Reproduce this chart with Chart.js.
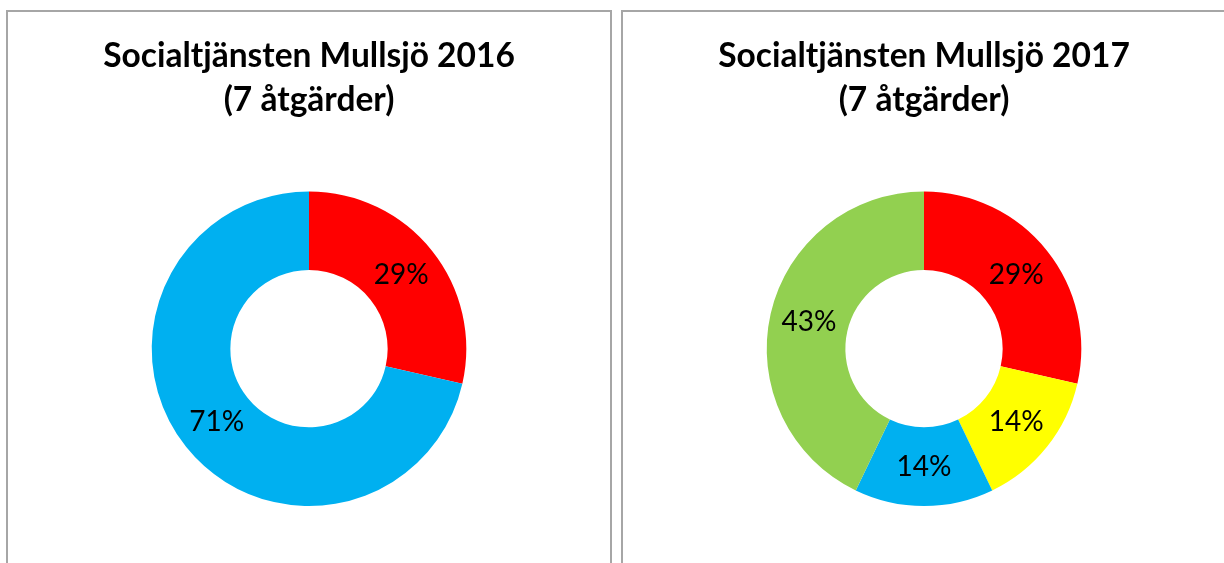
<!DOCTYPE html>
<html>
<head>
<meta charset="utf-8">
<script src="https://cdn.jsdelivr.net/npm/chart.js@4/dist/chart.umd.min.js"></script>
<style>
  html, body { margin: 0; padding: 0; background: #fff; overflow: hidden; }
  body { width: 1224px; height: 563px; position: relative; }
  .panel { position: absolute; top: 10px; width: 602px; height: 600px; border: 2px solid #a6a6a6; }
  .panel canvas { position: absolute; left: 0; top: 0; }
</style>
</head>
<body>
<div class="panel" style="left:6px"><canvas id="c2016" width="602" height="600"></canvas></div>
<div class="panel" style="left:621px"><canvas id="c2017" width="602" height="600"></canvas></div>
<script>
// titles
var title2016 = ['Socialtjänsten Mullsjö 2016', '(7 åtgärder)'];
var title2017 = ['Socialtjänsten Mullsjö 2017', '(7 åtgärder)'];

// number of åtgärder per category, clockwise from the top
var values2016 = [2, 5];
var colors2016 = ['#ff0000', '#00b0f0'];

var values2017 = [2, 1, 1, 3];
var colors2017 = ['#ff0000', '#ffff00', '#00b0f0', '#92d050'];

// draws the percentage in the middle of every slice
var sliceLabels = {
  id: 'sliceLabels',
  afterDatasetsDraw: function (chart) {
    var ctx = chart.ctx;
    var data = chart.data.datasets[0].data;
    var total = data.reduce(function (a, b) { return a + b; }, 0);
    ctx.save();
    ctx.font = '28px Lato';
    ctx.fillStyle = '#000';
    ctx.textAlign = 'center';
    ctx.textBaseline = 'middle';
    chart.getDatasetMeta(0).data.forEach(function (arc, i) {
      var p = arc.getCenterPoint();
      ctx.fillText(Math.round(data[i] / total * 100) + '%', p.x, p.y);
    });
    ctx.restore();
  }
};

function makeChart(id, title, values, colors) {
  return new Chart(document.getElementById(id), {
    type: 'doughnut',
    data: {
      labels: values.map(function (v, i) { return 'k' + i; }),
      datasets: [{
        data: values,
        backgroundColor: colors,
        borderWidth: 0,
        hoverOffset: 0
      }]
    },
    options: {
      responsive: false,
      animation: false,
      devicePixelRatio: 1,
      cutout: '50%',
      events: [],
      layout: { padding: { top: 0, bottom: 106, left: 0, right: 0 } },
      plugins: {
        legend: { display: false },
        tooltip: { enabled: false },
        title: {
          display: true,
          text: title,
          color: '#000',
          font: { family: 'Lato', size: 33.5, weight: 'bold', lineHeight: 1.29 },
          padding: { top: 23, bottom: 70 }
        }
      }
    },
    plugins: [sliceLabels]
  });
}

makeChart('c2016', title2016, values2016, colors2016);
makeChart('c2017', title2017, values2017, colors2017);
</script>
</body>
</html>
